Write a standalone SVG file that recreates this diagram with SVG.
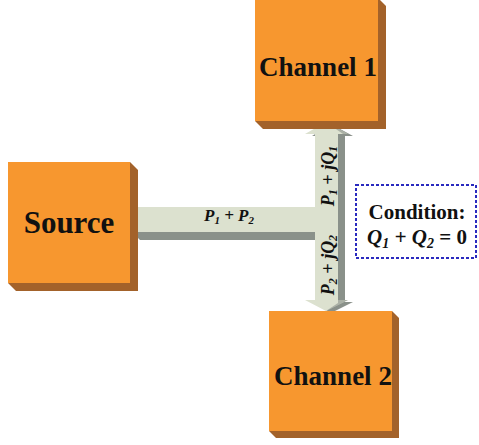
<svg xmlns="http://www.w3.org/2000/svg" width="479" height="445" viewBox="0 0 479 445">
<style>
.front{fill:#F7972F}
.side{fill:#A3622A}
.lbl{font-family:"Liberation Serif","Times New Roman",serif;font-weight:bold;fill:#111;text-anchor:middle}
.math{font-family:"Liberation Serif","Times New Roman",serif;font-weight:bold;font-style:italic;fill:#111;text-anchor:middle}
.barL{fill:#DCE1CF}
.barD{fill:#8A918A}
</style>
<rect width="479" height="445" fill="#fff"/>
<g id="connectors">
  <!-- horizontal bar -->
  <polygon class="barD" points="132,232 315,232 315,240 140,240"/>
  <rect class="barL" x="132" y="207" width="185" height="25"/>
  <!-- vertical double arrow shadow -->
  <polygon class="barD" points="331,124 353,136 345,136 345,302 353,302 331,313 312,302 322,302 322,136 312,136"/>
  <!-- vertical double arrow light -->
  <polygon class="barL" points="326,122 348,134 338,134 338,300 348,300 326,311 305,300 315,300 315,134 305,134"/>
  <polygon class="barD" points="326,122 348,134 343,134" opacity="0.6"/>
  <polygon class="barD" points="338,300 348,300 326,311 338,303" opacity="0.6"/>
  <text class="math" font-size="17" x="229" y="221">P<tspan font-size="11" dy="3">1</tspan><tspan dy="-3"> + P</tspan><tspan font-size="11" dy="3">2</tspan></text>
  <text class="math" font-size="18" transform="translate(334,176) rotate(-90)" x="0" y="0">P<tspan font-size="12" dy="3">1</tspan><tspan dy="-3"> + jQ</tspan><tspan font-size="12" dy="3">1</tspan></text>
  <text class="math" font-size="18" transform="translate(334,265) rotate(-90)" x="0" y="0">P<tspan font-size="12" dy="3">2</tspan><tspan dy="-3"> + jQ</tspan><tspan font-size="12" dy="3">2</tspan></text>
</g>
<g id="source">
  <polygon class="side" points="130,162 138,170 138,291 16,291 8,283"/>
  <rect class="front" x="8" y="162" width="122" height="121"/>
  <text class="lbl" font-size="31" x="69" y="233">Source</text>
</g>
<g id="channel1">
  <polygon class="side" points="378,-2 386,6 386,129 263,129 255,121"/>
  <rect class="front" x="255" y="-2" width="123" height="123"/>
  <text class="lbl" font-size="27" x="318" y="76">Channel 1</text>
</g>
<g id="channel2">
  <polygon class="side" points="392,311 399,318 399,438 276,438 269,431"/>
  <rect class="front" x="269" y="311" width="123" height="120"/>
  <text class="lbl" font-size="27" x="333" y="385">Channel 2</text>
</g>
<g id="condition">
  <rect x="356" y="185" width="120" height="73" fill="#fff" stroke="#2A2ABF" stroke-width="2" stroke-dasharray="3,2"/>
  <text class="lbl" font-size="21" x="417" y="219">Condition:</text>
  <text class="math" font-size="21" x="417" y="244">Q<tspan font-size="14" dy="4">1</tspan><tspan dy="-4"> + Q</tspan><tspan font-size="14" dy="4">2</tspan><tspan dy="-4" font-style="normal"> = 0</tspan></text>
</g>
</svg>
